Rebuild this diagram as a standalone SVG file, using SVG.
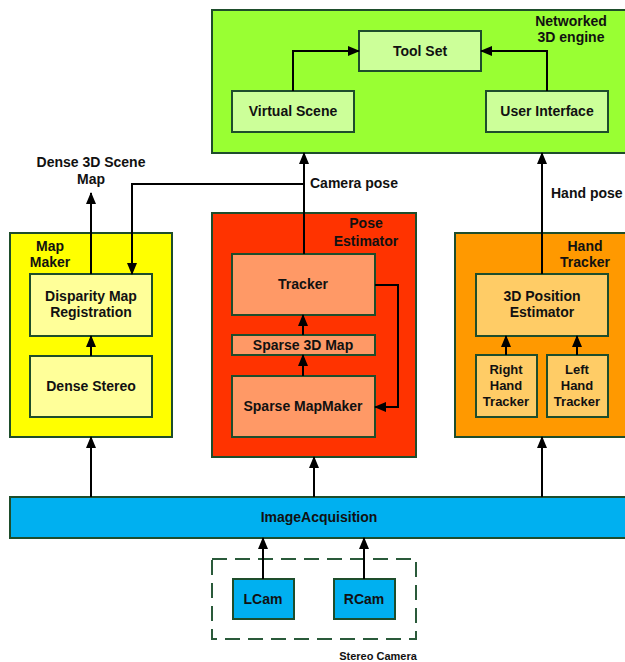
<svg xmlns="http://www.w3.org/2000/svg" width="625" height="662" viewBox="0 0 625 662">
<defs>
<marker id="ah" markerUnits="userSpaceOnUse" markerWidth="12" markerHeight="10" refX="11" refY="5" orient="auto">
<path d="M0,0 L12,5 L0,10 Z" fill="#000"/>
</marker>
<style>
rect{stroke:#1e4d2b;stroke-width:2}
text{font-family:"Liberation Sans",Arial,sans-serif;font-weight:bold;font-size:14px;fill:#111;text-anchor:middle}
.l{stroke:#000;stroke-width:2;fill:none;marker-end:url(#ah)}
.p{stroke:#000;stroke-width:2;fill:none}
.sm{font-size:13px}
.xs{font-size:11px}
</style>
</defs>
<rect width="625" height="662" fill="#fff" style="stroke:none"/>

<g id="engine">
<rect x="212" y="10" width="420" height="143" fill="#99ff33"/>
<text x="571" y="26">Networked</text>
<text x="571" y="42">3D engine</text>
</g>
<g id="toolset"><rect x="359" y="31" width="122" height="40" fill="#ccff99"/><text x="420" y="56">Tool Set</text></g>
<g id="virtualscene"><rect x="232" y="91" width="122" height="41" fill="#ccff99"/><text x="293" y="116">Virtual Scene</text></g>
<g id="userinterface"><rect x="486" y="91" width="122" height="41" fill="#ccff99"/><text x="547" y="116">User Interface</text></g>

<g id="mapmaker">
<rect x="10" y="233" width="162" height="204" fill="#ffff00"/>
<text x="50" y="251">Map</text>
<text x="50" y="267">Maker</text>
</g>
<g id="disparity"><rect x="30" y="274" width="122" height="62" fill="#ffff99"/><text x="91" y="301">Disparity Map</text><text x="91" y="317">Registration</text></g>
<g id="densestereo"><rect x="30" y="356" width="122" height="61" fill="#ffff99"/><text x="91" y="391">Dense Stereo</text></g>

<g id="poseestimator">
<rect x="212" y="213" width="204" height="244" fill="#ff3300"/>
<text x="366" y="228">Pose</text>
<text x="366" y="246">Estimator</text>
</g>
<g id="tracker"><rect x="232" y="254" width="143" height="61" fill="#ff9966"/><text x="303" y="289">Tracker</text></g>
<g id="sparse3dmap"><rect x="232" y="335" width="143" height="20" fill="#ff9966"/><text x="303" y="350">Sparse 3D Map</text></g>
<g id="sparsemapmaker"><rect x="232" y="376" width="143" height="61" fill="#ff9966"/><text x="303" y="411">Sparse MapMaker</text></g>

<g id="handtracker">
<rect x="455" y="233" width="180" height="204" fill="#ff9900"/>
<text x="585" y="251">Hand</text>
<text x="585" y="267">Tracker</text>
</g>
<g id="positionestimator"><rect x="476" y="274" width="132" height="62" fill="#ffcc66"/><text x="542" y="301">3D Position</text><text x="542" y="317">Estimator</text></g>
<g id="righthand"><rect x="476" y="355" width="61" height="62" fill="#ffcc66"/><text class="sm" x="506" y="374">Right</text><text class="sm" x="506" y="390">Hand</text><text class="sm" x="506" y="406">Tracker</text></g>
<g id="lefthand"><rect x="547" y="355" width="61" height="62" fill="#ffcc66"/><text class="sm" x="577" y="374">Left</text><text class="sm" x="577" y="390">Hand</text><text class="sm" x="577" y="406">Tracker</text></g>

<g id="imageacquisition"><rect x="10" y="497" width="625" height="41" fill="#00b0f0"/><text x="319" y="522">ImageAcquisition</text></g>

<g id="stereocamera">
<rect x="212" y="559" width="204" height="80" fill="none" style="stroke:#2a5a3a;stroke-width:2;stroke-dasharray:15 8"/>
<text class="xs" x="378" y="660">Stereo Camera</text>
</g>
<g id="lcam"><rect x="233" y="579" width="61" height="40" fill="#00b0f0"/><text x="263" y="604">LCam</text></g>
<g id="rcam"><rect x="334" y="579" width="61" height="40" fill="#00b0f0"/><text x="364" y="604">RCam</text></g>

<g id="connectors">
<path class="l" d="M293,91 V51 H359"/>
<path class="l" d="M547,91 V51 H481"/>
<path class="l" d="M304,254 V153"/>
<path class="l" d="M304,184 H132 V274"/>
<path class="l" d="M91,274 V193"/>
<path class="l" d="M91,356 V336"/>
<path class="l" d="M303,335 V315"/>
<path class="l" d="M303,376 V355"/>
<path class="l" d="M375,285 H398 V407 H375"/>
<path class="l" d="M542,274 V153"/>
<path class="l" d="M506,355 V336"/>
<path class="l" d="M577,355 V336"/>
<path class="l" d="M91,497 V437"/>
<path class="l" d="M314,497 V457"/>
<path class="l" d="M542,497 V437"/>
<path class="l" d="M263,579 V538"/>
<path class="l" d="M364,579 V538"/>
<text x="310" y="188" style="text-anchor:start">Camera pose</text>
<text x="551" y="198" style="text-anchor:start">Hand pose</text>
<text x="91" y="167">Dense 3D Scene</text>
<text x="91" y="184">Map</text>
</g>
</svg>
